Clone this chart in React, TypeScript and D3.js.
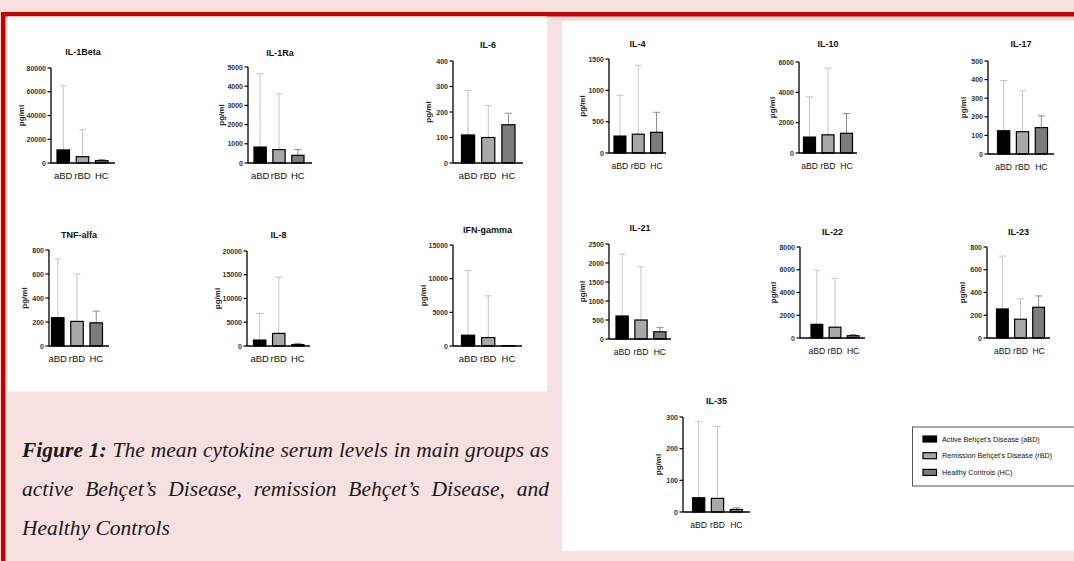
import React, { useRef, useEffect } from 'react';
import * as d3 from 'd3';

// groups and cytokines
const groups = ['aBD', 'rBD', 'HC'];
const cytokines = ['IL-1Beta', 'IL-1Ra', 'IL-6', 'TNF-alfa', 'IL-8', 'IFN-gamma', 'IL-4', 'IL-10', 'IL-17', 'IL-21', 'IL-22', 'IL-23', 'IL-35'];
const yMax = [80000, 5000, 400, 800, 20000, 15000, 1500, 6000, 500, 2500, 8000, 800, 300];
const yStep = [20000, 1000, 100, 200, 5000, 5000, 500, 2000, 100, 500, 2000, 200, 100];

// means (pg/ml)
const meanABD = [11000, 830, 110, 236, 1250, 1600, 270, 1050, 125, 605, 1200, 255, 45];
const meanRBD = [5300, 700, 100, 205, 2650, 1250, 300, 1200, 120, 500, 950, 165, 43];
const meanHC = [2000, 400, 150, 193, 300, 50, 330, 1300, 142, 190, 200, 270, 8];
// SD (upper error bar only)
const sdABD = [54000, 3820, 175, 489, 5600, 9600, 650, 2650, 270, 1625, 4750, 465, 240];
const sdRBD = [22700, 2900, 125, 395, 11850, 6200, 1100, 4400, 220, 1400, 4300, 180, 227];
const sdHC = [1000, 300, 45, 97, 250, 30, 320, 1300, 63, 110, 100, 100, 5];

const legendLabels = ['Active Behçet’s Disease (aBD)', 'Remission Behçet’s Disease (rBD)', 'Healthy Controls (HC)'];

// layout of each small chart: y-axis x, top / zero pixel, x-axis length, first/last bar edge, title y
const layout = [
  { x: 51, top: 68, bottom: 163, w: 64, b0: 57, b1: 108, titleY: 55, fs: 9.5 },
  { x: 248, top: 67, bottom: 163, w: 64, b0: 254, b1: 304, titleY: 56, fs: 9.5 },
  { x: 453, top: 61, bottom: 163, w: 70, b0: 461.5, b1: 515, titleY: 48, fs: 9.5 },
  { x: 49, top: 250, bottom: 346, w: 60, b0: 51.5, b1: 102.5, titleY: 238, fs: 9.5 },
  { x: 247, top: 251, bottom: 346, w: 63, b0: 253.5, b1: 304, titleY: 238, fs: 9.5 },
  { x: 453, top: 245, bottom: 346, w: 69, b0: 461.5, b1: 515, titleY: 233, fs: 9.5 },
  { x: 609, top: 59, bottom: 153, w: 57, b0: 614, b1: 662.5, titleY: 47, fs: 8.6 },
  { x: 799, top: 62, bottom: 153, w: 58, b0: 803.5, b1: 852.5, titleY: 47, fs: 8.6 },
  { x: 988, top: 61, bottom: 154, w: 66, b0: 997.5, b1: 1047.5, titleY: 47, fs: 8.6 },
  { x: 609, top: 244, bottom: 339, w: 62, b0: 616, b1: 666, titleY: 231, fs: 8.6 },
  { x: 800, top: 247, bottom: 338, w: 65, b0: 811, b1: 859, titleY: 235, fs: 8.6 },
  { x: 987, top: 247, bottom: 338, w: 63, b0: 996.5, b1: 1044.5, titleY: 235, fs: 8.6 },
  { x: 683, top: 417, bottom: 512, w: 67, b0: 692.5, b1: 742.5, titleY: 404, fs: 8.6 },
];

const fills = ['#000000', '#a8a8a8', '#7c7c7c'];
const errColors = ['#c4c4c4', '#c4c4c4', '#8c8c8c'];
const sans = '"Liberation Sans", Arial, sans-serif';

const BarChart = ({ i }: { i: number }) => {
  const L = layout[i];
  const y = d3.scaleLinear().domain([0, yMax[i]]).range([L.bottom, L.top]);
  const x = d3.scaleBand().domain(groups).range([L.b0, L.b1]).paddingInner(0.35).paddingOuter(0);
  const ticks = d3.range(0, yMax[i] + 1, yStep[i]);
  const means = [meanABD[i], meanRBD[i], meanHC[i]];
  const sds = [sdABD[i], sdRBD[i], sdHC[i]];
  const labelOffset = 13.5 + 2.75 * String(yMax[i]).length;
  const bw = x.bandwidth();

  return (
    <g>
      <text x={L.x + L.w / 2} y={L.titleY} textAnchor="middle" fontSize={9} fontWeight="bold" fill="#111" fontFamily={sans}>
        {cytokines[i]}
      </text>
      {groups.map((g, k) => {
        const cx = x(g)! + bw / 2;
        const top = y(means[k] + sds[k]);
        return (
          <g key={g}>
            <line x1={cx} x2={cx} y1={y(means[k])} y2={top} stroke={errColors[k]} strokeWidth={1} />
            <line x1={cx - 3.5} x2={cx + 3.5} y1={top} y2={top} stroke={errColors[k]} strokeWidth={1} />
            <rect x={x(g)} y={y(means[k])} width={bw} height={y(0) - y(means[k])} fill={fills[k]} stroke="#000" strokeWidth={1.2} />
            <text x={cx} y={L.bottom + 16} textAnchor="middle" fontSize={L.fs} fill="#111" fontFamily={sans}>{g}</text>
          </g>
        );
      })}
      <line x1={L.x} x2={L.x} y1={L.top} y2={L.bottom} stroke="#000" strokeWidth={1.3} />
      <line x1={L.x} x2={L.x + L.w} y1={L.bottom} y2={L.bottom} stroke="#000" strokeWidth={1.3} />
      {ticks.map(t => (
        <g key={t}>
          <line x1={L.x - 3.5} x2={L.x} y1={y(t)} y2={y(t)} stroke="#000" strokeWidth={1.2} />
          <text x={L.x - 5} y={y(t) + 2.5} textAnchor="end" fontSize={7} fontWeight="bold" fill="#333" fontFamily={sans}>{t}</text>
        </g>
      ))}
      <text transform={`translate(${L.x - labelOffset},${(L.top + L.bottom) / 2}) rotate(-90)`} textAnchor="middle" fontSize={8} fontWeight="bold" fill="#222" fontFamily={sans}>
        pg/ml
      </text>
    </g>
  );
};

const Legend = () => (
  <g>
    <rect x={912.5} y={427} width={170} height={59} fill="#fff" stroke="#555" strokeWidth={1} />
    {legendLabels.map((d, k) => {
      const cy = 439 + k * 16.7;
      return (
        <g key={d}>
          <rect x={923} y={cy - 3} width={13.5} height={6} fill={fills[k]} stroke="#000" strokeWidth={1.2} />
          <text x={942} y={cy + 2.5} fontSize={7.2} fill="#111" fontFamily={sans}>{d}</text>
        </g>
      );
    })}
  </g>
);

export default function App() {
  const serif = '"Liberation Serif", "Times New Roman", serif';
  const line1 = useRef<SVGTextElement>(null);
  const line2 = useRef<SVGTextElement>(null);

  // justify the two full caption lines by stretching word spacing
  useEffect(() => {
    [line1, line2].forEach(r => {
      const el = r.current;
      if (!el) return;
      el.style.wordSpacing = '0px';
      const natural = el.getComputedTextLength();
      const spaces = ((el.textContent || '').match(/ /g) || []).length;
      if (spaces > 0) el.style.wordSpacing = `${(527 - natural) / spaces}px`;
    });
  }, []);

  return (
    <div style={{ position: 'absolute', left: 0, top: 0 }}>
      <svg width={1074} height={561} style={{ display: 'block' }}>
        <rect x={0} y={0} width={1074} height={561} fill="#f6e0e0" />
        <rect x={1} y={12} width={1073} height={4.5} fill="#c40000" />
        <rect x={1} y={12} width={4.5} height={549} fill="#c40000" />
        <rect x={8} y={16.5} width={539} height={375} fill="#fff" />
        <rect x={562} y={21} width={512} height={530} fill="#fff" />
        {cytokines.map((c, i) => <BarChart key={c} i={i} />)}
        <Legend />
        <g fontFamily={serif} fontSize={21.5} fontStyle="italic" fill="#1a1a1a">
          <text ref={line1} x={22} y={457}>
            <tspan fontWeight="bold">Figure 1:</tspan> The mean cytokine serum levels in main groups as
          </text>
          <text ref={line2} x={22} y={496}>
            active Behçet’s Disease, remission Behçet’s Disease, and
          </text>
          <text x={22} y={535}>Healthy Controls</text>
        </g>
      </svg>
    </div>
  );
}
